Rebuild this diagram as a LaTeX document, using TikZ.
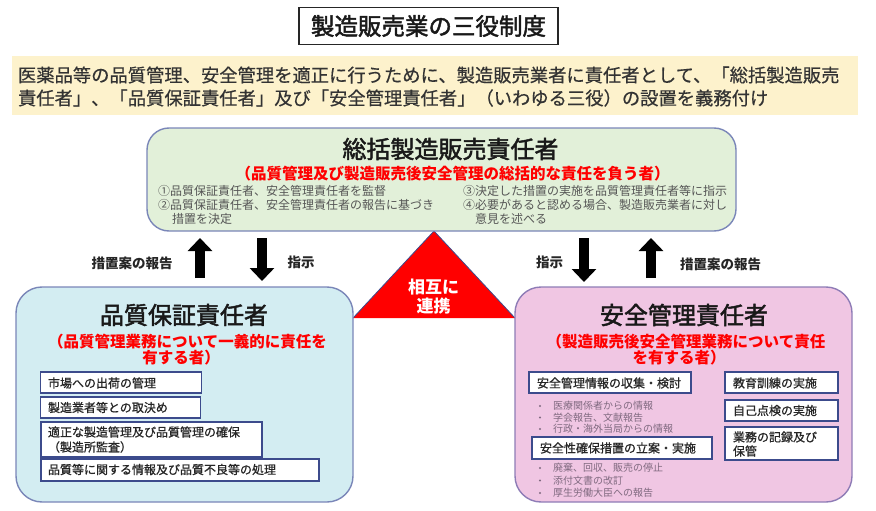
\documentclass[tikz,border=0pt]{standalone}
\usepackage{fontspec}
\setmainfont{Noto Sans CJK JP}
\newfontfamily\jpmed[FakeBold=0.9]{Noto Sans CJK JP}
\newfontfamily\jpsemi[FakeBold=0.5]{Noto Sans CJK JP}
\newfontfamily\jphead[FakeBold=2]{Noto Sans CJK JP}
\usetikzlibrary{arrows.meta}
\definecolor{bannerfill}{HTML}{FDF2CC}
\definecolor{greenfill}{HTML}{E2F0D9}
\definecolor{cyanfill}{HTML}{D3EDF2}
\definecolor{pinkfill}{HTML}{F0C6E3}
\definecolor{boxline}{HTML}{7A86B8}
\definecolor{pinkline}{HTML}{8E7CB6}
\definecolor{subline}{HTML}{3C4B8C}
\definecolor{itemgray}{HTML}{555555}
\definecolor{bulletgray}{HTML}{806A80}
\definecolor{bannertext}{HTML}{333333}
\definecolor{redtext}{HTML}{FF0000}
\newcommand\fsz[1]{\fontsize{#1}{#1}\selectfont}
\begin{document}
\begin{tikzpicture}[x=1pt,y=-1pt,
  txt/.style={inner sep=0pt,outer sep=0pt},
  bigbox/.style={draw=boxline,line width=1.4pt,rounded corners=22pt,inner sep=0pt},
  subbox/.style={draw=subline,line width=1.6pt,fill=white,inner sep=0pt},
  subtxt/.style={txt,font=\fsz{12}\jpmed,text=black!85,anchor=west},
  itemtxt/.style={txt,font=\fsz{12},text=itemgray,anchor=west},
  bullettxt/.style={txt,font=\fsz{10},text=bulletgray,anchor=west},
  redsub/.style={txt,font=\fsz{15.5}\bfseries,text=redtext},
  boxtitle/.style={txt,font=\fsz{24}\jphead,text=black!90},
  blockarrow/.style={line width=9.5pt,line cap=butt,-{Triangle[width=24pt,length=13pt]}},
  arrowlabel/.style={txt,font=\fsz{13.5}\bfseries,text=black!85}
]
\useasboundingbox (0,0) rectangle (876,511);

% title
\node[draw=black!85,line width=1.3pt,inner sep=0pt,minimum width=259pt,minimum height=37pt,font=\fsz{23.5}\jphead,text=black!90] (title) at (428.5,26) {製造販売業の三役制度};

% banner
\node[fill=bannerfill,inner sep=0pt,minimum width=846pt,minimum height=58pt] (banner) at (435,85.5) {};
\node[txt,anchor=west,font=\fsz{18.3}\jpsemi,text=bannertext] (bline1) at (18,75) {医薬品等の品質管理、安全管理を適正に行うために、製造販売業者に責任者として、「総括製造販売};
\node[txt,anchor=west,font=\fsz{18.3}\jpsemi,text=bannertext] (bline2) at (18,98) {責任者」、「品質保証責任者」及び「安全管理責任者」（いわゆる三役）の設置を義務付け};

% triangle
\coordinate (tapex) at (434,231);
\coordinate (tleft) at (353,318);
\coordinate (tright) at (515,318);
\fill[redtext] (tapex) -- (tleft) -- (tright) -- cycle;
\draw[subline,line width=0.8pt] (tleft) -- (tapex) -- (tright);
\node[txt,font=\fsz{17}\bfseries,text=white] (tri1) at (433.5,287) {相互に};
\node[txt,font=\fsz{17}\bfseries,text=white] (tri2) at (433.5,306) {連携};

% top box
\node[bigbox,fill=greenfill,minimum width=589pt,minimum height=103pt] (top) at (441.5,179.5) {};
\node[boxtitle] (toptitle) at (450.5,149) {総括製造販売責任者};
\node[redsub] (topsub) at (452.5,174) {（品質管理及び製造販売後安全管理の総括的な責任を負う者）};
\node[itemtxt] (ti1) at (158,191) {①品質保証責任者、安全管理責任者を監督};
\node[itemtxt] (ti2) at (158,205) {②品質保証責任者、安全管理責任者の報告に基づき};
\node[itemtxt] (ti2b) at (172,219) {措置を決定};
\node[itemtxt] (ti3) at (463,191) {③決定した措置の実施を品質管理責任者等に指示};
\node[itemtxt] (ti4) at (463,205) {④必要があると認める場合、製造販売業者に対し};
\node[itemtxt] (ti4b) at (475,219) {意見を述べる};

% left box
\node[bigbox,fill=cyanfill,rounded corners=26pt,minimum width=337pt,minimum height=215pt] (qa) at (184.5,394.5) {};
\node[boxtitle] (qatitle) at (184,315) {品質保証責任者};
\node[redsub] (qasub1) at (187.5,342) {（品質管理業務について一義的に責任を};
\node[redsub] (qasub2) at (181,358) {有する者）};

\node[subbox,minimum width=161pt,minimum height=21pt] (q1) at (121,382.5) {};
\node[subtxt] (q1t) at (48,383) {市場への出荷の管理};
\node[subbox,minimum width=160pt,minimum height=21pt] (q2) at (120.5,407.5) {};
\node[subtxt] (q2t) at (48,407.5) {製造業者等との取決め};
\node[subbox,minimum width=221pt,minimum height=35pt] (q3) at (151.5,439.5) {};
\node[subtxt] (q3t) at (48,432) {適正な製造管理及び品質管理の確保};
\node[subtxt] (q3tb) at (48,447) {（製造所監査）};
\node[subbox,minimum width=278pt,minimum height=22pt] (q4) at (180,470) {};
\node[subtxt] (q4t) at (48,469.5) {品質等に関する情報及び品質不良等の処理};

% right box
\node[bigbox,draw=pinkline,fill=pinkfill,rounded corners=26pt,minimum width=337pt,minimum height=215pt] (sm) at (683.5,394.5) {};
\node[boxtitle] (smtitle) at (684,315) {安全管理責任者};
\node[redsub] (smsub1) at (686,342) {（製造販売後安全管理業務について責任};
\node[redsub] (smsub2) at (679,358) {を有する者）};

\node[subbox,minimum width=162pt,minimum height=21pt] (s1) at (610,382.5) {};
\node[subtxt] (s1t) at (537,383) {安全管理情報の収集・検討};
\node[bullettxt] (b1) at (553,406) {医療関係者からの情報};
\node[bullettxt] (b2) at (553,417.5) {学会報告、文献報告};
\node[bullettxt] (b3) at (553,429) {行政・海外当局からの情報};
\foreach \yy in {406,417.5,429} \fill[bulletgray] (540,\yy) circle (1.2pt);

\node[subbox,minimum width=180pt,minimum height=22pt] (s2) at (622,448) {};
\node[subtxt] (s2t) at (540,448) {安全性確保措置の立案・実施};
\node[bullettxt] (b4) at (553,468) {廃棄、回収、販売の停止};
\node[bullettxt] (b5) at (553,480.5) {添付文書の改訂};
\node[bullettxt] (b6) at (553,493) {厚生労働大臣への報告};
\foreach \yy in {468,480.5,493} \fill[bulletgray] (540,\yy) circle (1.2pt);

\node[subbox,minimum width=113pt,minimum height=21pt] (s3) at (781.5,382.5) {};
\node[subtxt] (s3t) at (733,383) {教育訓練の実施};
\node[subbox,minimum width=113pt,minimum height=21pt] (s4) at (781.5,410.5) {};
\node[subtxt] (s4t) at (733,410.5) {自己点検の実施};
\node[subbox,minimum width=113pt,minimum height=33pt] (s5) at (781.5,443.5) {};
\node[subtxt] (s5t) at (733,437) {業務の記録及び};
\node[subtxt] (s5tb) at (733,451) {保管};

% arrows
\coordinate (lua) at (200,278);
\coordinate (lub) at (200,238);
\coordinate (lda) at (262,238);
\coordinate (ldb) at (262,281);
\coordinate (rda) at (584,238);
\coordinate (rdb) at (584,282);
\coordinate (rua) at (651,278);
\coordinate (rub) at (651,238);
\draw[blockarrow] (lua) -- (lub);
\draw[blockarrow] (lda) -- (ldb);
\draw[blockarrow] (rda) -- (rdb);
\draw[blockarrow] (rua) -- (rub);
\node[arrowlabel] (lrep) at (132,263) {措置案の報告};
\node[arrowlabel] (linst) at (301,262) {指示};
\node[arrowlabel] (rinst) at (549.5,262) {指示};
\node[arrowlabel] (rrep) at (720.5,264) {措置案の報告};
\end{tikzpicture}
\end{document}
